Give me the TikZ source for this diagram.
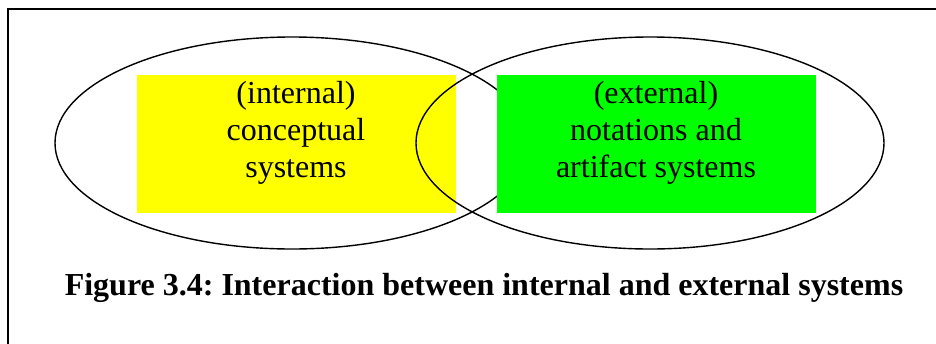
\documentclass[tikz,border=0pt]{standalone}
\usepackage{fontspec}
\setmainfont{Liberation Serif}
\frenchspacing
\definecolor{boxyellow}{RGB}{255,255,0}
\definecolor{boxgreen}{RGB}{0,255,0}
\begin{document}
\begin{tikzpicture}[x=1pt,y=-1pt,
  frameline/.style={draw=black,line width=1.3pt},
  setline/.style={draw=black,line width=1.4pt},
  colbox/.style={draw=none,inner sep=0pt,minimum width=319pt,minimum height=138pt},
  boxtext/.style={align=center,inner sep=0pt,font=\fontsize{32}{37}\selectfont},
  captiontext/.style={inner sep=0pt,font=\fontsize{32}{37}\selectfont\bfseries}]
  \useasboundingbox (0,0) rectangle (936,343);
  \clip (0,0) rectangle (936,343);
  % outer frame, running past the right and bottom edges
  \draw[frameline] (8,9) rectangle (960,370);
  % coloured boxes and the two overlapping sets
  \node[colbox,fill=boxyellow] (inbox) at (296.5,144) {};
  \draw[setline] (292,143) ellipse [x radius=237, y radius=106];
  \node[colbox,fill=boxgreen] (exbox) at (656.5,144) {};
  \draw[setline] (650,143) ellipse [x radius=234, y radius=106];
  % labels
  \node[boxtext] (intext) at (296,132.5) {(internal)\\conceptual\\systems};
  \node[boxtext] (extext) at (656,132.5) {(external)\\notations and\\artifact systems};
  \node[captiontext,anchor=base] (caption) at (484,295) {Figure 3.4: Interaction between internal and external systems};
\end{tikzpicture}
\end{document}
